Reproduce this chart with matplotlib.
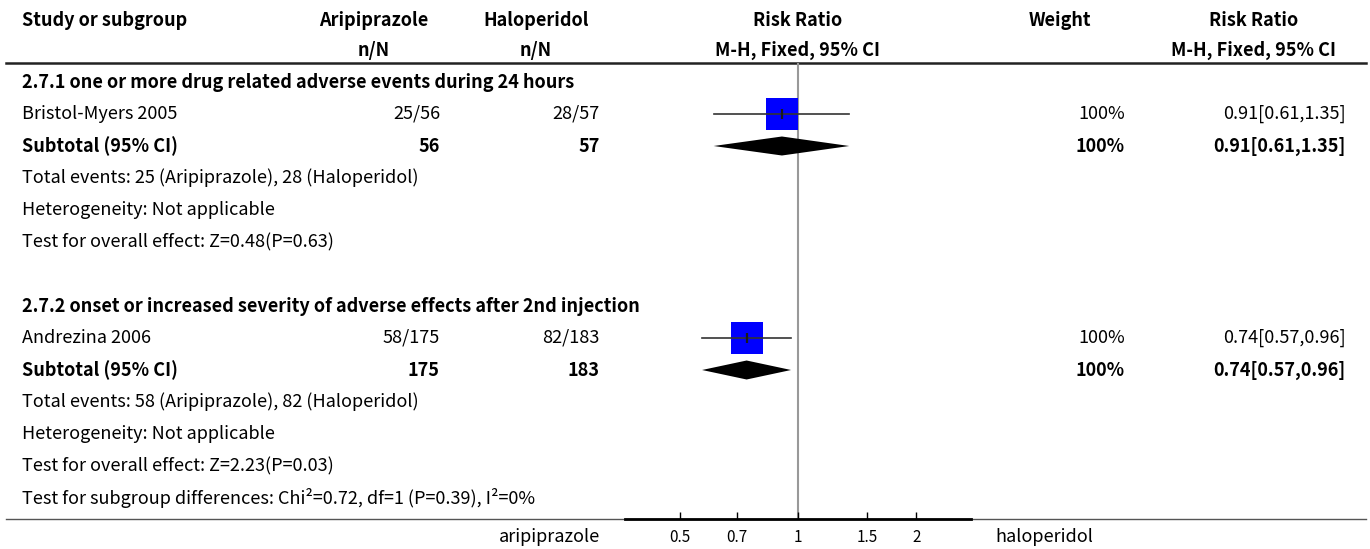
import matplotlib.pyplot as plt
from matplotlib.ticker import FixedLocator, NullLocator

plt.rcParams['font.family'] = ['Noto Sans CJK SC', 'DejaVu Sans']

# Data
subgroups = ['2.7.1 one or more drug related adverse events during 24 hours',
             '2.7.2 onset or increased severity of adverse effects after 2nd injection']
studies = ['Bristol-Myers 2005', 'Andrezina 2006']
ari_events = [25, 58]
ari_total = [56, 175]
hal_events = [28, 82]
hal_total = [57, 183]
weights = [100, 100]
rr = [0.91, 0.74]
ci_low = [0.61, 0.57]
ci_high = [1.35, 0.96]
heterogeneity = ['Not applicable', 'Not applicable']
overall_z = [0.48, 2.23]
overall_p = [0.63, 0.03]
subgroup_test = 'Test for subgroup differences: Chi²=0.72, df=1 (P=0.39), I²=0%'
tick_values = [0.5, 0.7, 1, 1.5, 2]
tick_labels = ['0.5', '0.7', '1', '1.5', '2']

W, H = 1370, 549
fs = 13
fig = plt.figure(figsize=(W / 100, H / 100), dpi=100)

# text layer in pixel coordinates
ax = fig.add_axes([0, 0, 1, 1])
ax.set_xlim(0, W)
ax.set_ylim(H, 0)
ax.axis('off')

# forest plot panel
x0, x1, y_top, y_bot = 625, 971, 63, 519
fax = fig.add_axes([x0 / W, (H - y_bot) / H, (x1 - x0) / W, (y_bot - y_top) / H])
fax.set_facecolor('none')
fax.set_xscale('log')
fax.set_xlim(0.363, 2.754)
fax.set_ylim(y_bot, y_top)
for s in ['top', 'left', 'right']:
    fax.spines[s].set_visible(False)
fax.spines['bottom'].set_linewidth(2)
fax.xaxis.set_major_locator(FixedLocator(tick_values))
fax.xaxis.set_minor_locator(NullLocator())
fax.set_xticklabels(tick_labels)
fax.tick_params(axis='x', direction='in', length=5, width=1, labelsize=11, pad=7)
fax.set_yticks([])
fax.axvline(1, color='#999999', lw=1.5, zorder=1)

# column headers
ax.text(22, 20, 'Study or subgroup', fontsize=fs, fontweight='bold', va='center')
for cx, top, bottom in [(374, 'Aripiprazole', 'n/N'), (536, 'Haloperidol', 'n/N'),
                        (798, 'Risk Ratio', 'M-H, Fixed, 95% CI'), (1060, 'Weight', ''),
                        (1254, 'Risk Ratio', 'M-H, Fixed, 95% CI')]:
    ax.text(cx, 20, top, fontsize=fs, fontweight='bold', ha='center', va='center')
    ax.text(cx, 50, bottom, fontsize=fs, fontweight='bold', ha='center', va='center')
ax.plot([6, 1366], [63, 63], color='#222222', lw=1.8)
ax.plot([6, 1366], [519, 519], color='#555555', lw=1)

row_h = 32
first_row = 82


def row_y(i):
    return first_row + row_h * i


def ci_text(i):
    return f'{rr[i]:.2f}[{ci_low[i]:.2f},{ci_high[i]:.2f}]'


for g in range(len(subgroups)):
    base = g * 7
    ax.text(22, row_y(base), subgroups[g], fontsize=fs, fontweight='bold', va='center')

    # study row
    y = row_y(base + 1)
    ax.text(22, y, studies[g], fontsize=fs, va='center')
    ax.text(440, y, f'{ari_events[g]}/{ari_total[g]}', fontsize=fs, ha='right', va='center')
    ax.text(600, y, f'{hal_events[g]}/{hal_total[g]}', fontsize=fs, ha='right', va='center')
    ax.text(1125, y, f'{weights[g]}%', fontsize=fs, ha='right', va='center')
    ax.text(1346, y, ci_text(g), fontsize=fs, ha='right', va='center')
    fax.plot(rr[g], y, marker='s', markersize=22.5, color='#0000ff', mew=0, zorder=2)
    fax.plot([ci_low[g], ci_high[g]], [y, y], color='#333333', lw=1.2, zorder=3)
    fax.plot(rr[g], y, marker='|', markersize=7, color='#1a1a1a', mew=1.6, zorder=4)

    # subtotal row
    y = row_y(base + 2)
    ax.text(22, y, 'Subtotal (95% CI)', fontsize=fs, fontweight='bold', va='center')
    ax.text(440, y, f'{ari_total[g]}', fontsize=fs, fontweight='bold', ha='right', va='center')
    ax.text(600, y, f'{hal_total[g]}', fontsize=fs, fontweight='bold', ha='right', va='center')
    ax.text(1125, y, f'{weights[g]}%', fontsize=fs, fontweight='bold', ha='right', va='center')
    ax.text(1346, y, ci_text(g), fontsize=fs, fontweight='bold', ha='right', va='center')
    fax.fill([ci_low[g], rr[g], ci_high[g], rr[g]], [y, y - 9.5, y, y + 9.5],
             color='black', lw=0, zorder=3)

    ax.text(22, row_y(base + 3),
            f'Total events: {ari_events[g]} (Aripiprazole), {hal_events[g]} (Haloperidol)',
            fontsize=fs, va='center')
    ax.text(22, row_y(base + 4), f'Heterogeneity: {heterogeneity[g]}', fontsize=fs, va='center')
    ax.text(22, row_y(base + 5),
            f'Test for overall effect: Z={overall_z[g]:.2f}(P={overall_p[g]:.2f})',
            fontsize=fs, va='center')

ax.text(22, row_y(13), subgroup_test, fontsize=fs, va='center')

# favours labels
ax.text(600, 537, 'aripiprazole', fontsize=fs, ha='right', va='center')
ax.text(995, 537, 'haloperidol', fontsize=fs, ha='left', va='center')

fig.savefig('out.png', dpi=100)
